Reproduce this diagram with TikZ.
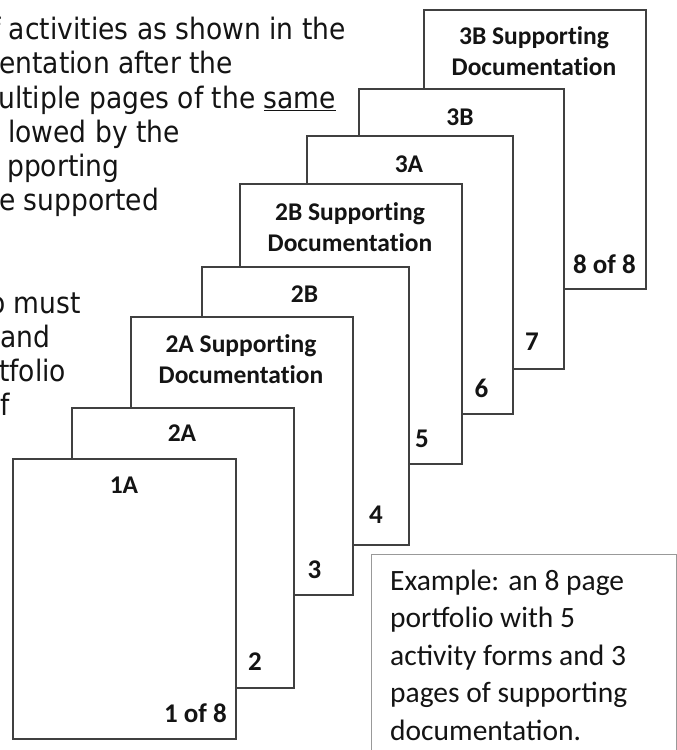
\documentclass[tikz,border=0pt]{standalone}
\usepackage{fontspec}
\setmainfont{Carlito}
\newfontfamily\labelfont[Ligatures=NoCommon]{Carlito}
\newfontfamily\tahoma[FakeStretch=0.9]{DejaVu Sans}
\definecolor{pagegray}{HTML}{404040}
\definecolor{boxgray}{HTML}{999999}
\definecolor{ink}{HTML}{141414}
\begin{document}
\begin{tikzpicture}[x=1bp,y=-1bp,
  page/.style={draw=pagegray, line width=1.7bp, fill=white, anchor=north west, inner sep=0pt},
  lbl/.style={text=ink, inner sep=0pt, anchor=base, align=center, font=\labelfont\bfseries\fontsize{25.5bp}{30.5bp}\selectfont},
  num/.style={text=ink, inner sep=0pt, anchor=base, font=\labelfont\bfseries\fontsize{27bp}{30bp}\selectfont},
  toptext/.style={text=ink, inner sep=0pt, anchor=base west, font=\tahoma\fontsize{29.5bp}{34bp}\selectfont},
  exbox/.style={draw=boxgray, line width=1.2bp, fill=white, anchor=north west, inner sep=0pt},
  extext/.style={text=ink, inner sep=0pt, anchor=base west, align=left, font=\fontsize{29.5bp}{37.5bp}\selectfont}]
\useasboundingbox (0,0) rectangle (677,750);
\clip (0,0) rectangle (677,750);
% top-left cut-off paragraph
\node[toptext] (t1) at (-9,40) {f activities as shown in the};
\node[toptext] (t2) at (-1,73.5) {entation after the};
\node[toptext] (t3) at (-2,108) {ultiple pages of the \underline{same}};
\node[toptext] (t4) at (8,142) {lowed by the};
\node[toptext] (t5) at (7,176) {pporting};
\node[toptext] (t6) at (-1,210) {e supported};
\node[toptext] (t8) at (-11,313) {o must};
\node[toptext] (t9) at (0,347) {and};
\node[toptext] (t10) at (-1,381) {tfolio};
\node[toptext] (t11) at (0,415) {f};
% pages, back to front
\node[page, minimum width=222bp, minimum height=279bp] (p8) at (423,9) {};
\node[lbl] (l8) at (534,75) {3B Supporting\\Documentation};
\node[num, anchor=base east] (n8) at (636,273) {8 of 8};
\node[page, minimum width=205bp, minimum height=280bp] (p7) at (358,88) {};
\node[lbl] (l7) at (460,125) {3B};
\node[num] (n7) at (532,350) {7};
\node[page, minimum width=206bp, minimum height=278bp] (p6) at (306,135) {};
\node[lbl] (l6) at (409,172) {3A};
\node[num] (n6) at (481.5,397) {6};
\node[page, minimum width=222bp, minimum height=280bp] (p5) at (239,183) {};
\node[lbl] (l5) at (350,251) {2B Supporting\\Documentation};
\node[num] (n5) at (422,447) {5};
\node[page, minimum width=207bp, minimum height=278bp] (p4) at (201,266) {};
\node[lbl] (l4) at (304.5,302) {2B};
\node[num] (n4) at (376,523) {4};
\node[page, minimum width=222bp, minimum height=278bp] (p3) at (130,316) {};
\node[lbl] (l3) at (241,383) {2A Supporting\\Documentation};
\node[num] (n3) at (314.5,578) {3};
\node[page, minimum width=222bp, minimum height=280bp] (p2) at (71,407) {};
\node[lbl] (l2) at (182,441) {2A};
\node[num] (n2) at (255,670) {2};
\node[page, minimum width=223bp, minimum height=280bp] (p1) at (12,458) {};
\node[lbl] (l1) at (124,493) {1A};
\node[num, anchor=base east] (n1) at (227,722) {1 of 8};
% example box
\node[exbox, minimum width=305bp, minimum height=240bp] (ex) at (371,554) {};
\node[extext] (ext) at (390,740) {Example: an 8 page\\portfolio with 5\\activity forms and 3\\pages of supporting\\documentation.};
\end{tikzpicture}
\end{document}
